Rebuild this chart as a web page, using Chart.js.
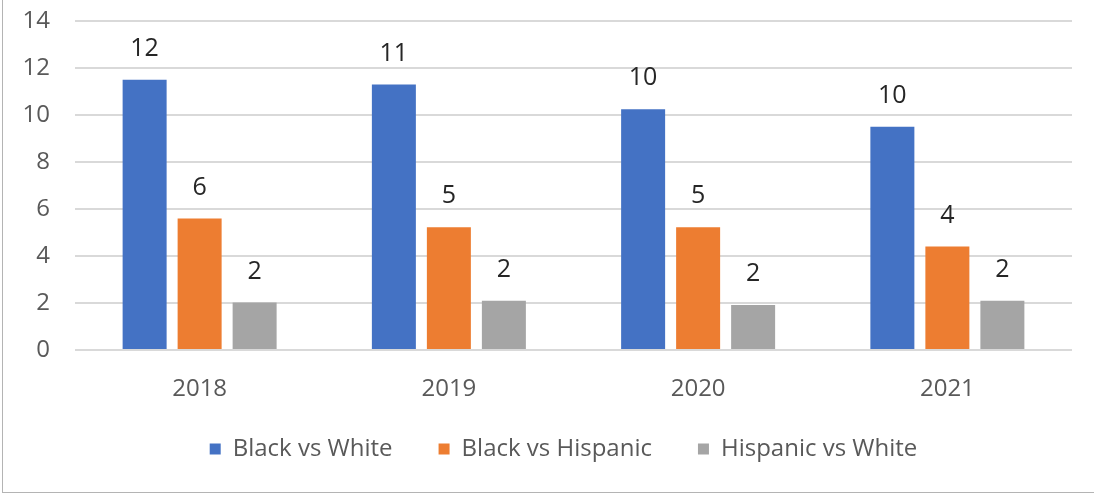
<!DOCTYPE html>
<html>
<head>
<meta charset="utf-8">
<script src="https://cdn.jsdelivr.net/npm/chart.js@4/dist/chart.umd.min.js"></script>
<style>
  html, body { margin: 0; padding: 0; background: #fff; }
  #frame {
    position: absolute;
    left: 2px;
    top: 0;
    width: 1092px;
    height: 493px;
    box-sizing: border-box;
    border-left: 1px solid #b4b4b4;
    border-bottom: 1px solid #b4b4b4;
  }
  #chart { display: block; }
</style>
</head>
<body>
<div id="frame"><canvas id="chart" width="1091" height="492"></canvas></div>
<script>
const years = ["2018", "2019", "2020", "2021"];
const blackVsWhite = [11.5, 11.3, 10.25, 9.5];
const blackVsHispanic = [5.6, 5.22, 5.22, 4.4];
const hispanicVsWhite = [2.02, 2.1, 1.92, 2.1];
const yTicks = [0, 2, 4, 6, 8, 10, 12, 14];

const fontFamily = "'Open Sans', 'Noto Sans', sans-serif";

// writes the rounded value above every bar
const barValues = {
  id: "barValues",
  afterDatasetsDraw(chart) {
    const ctx = chart.ctx;
    ctx.save();
    ctx.font = "25px " + fontFamily;
    ctx.fillStyle = "#262626";
    ctx.textAlign = "center";
    ctx.textBaseline = "middle";
    chart.data.datasets.forEach((ds, i) => {
      chart.getDatasetMeta(i).data.forEach((bar, j) => {
        ctx.fillText(Math.round(ds.data[j]), bar.x, bar.y - 31);
      });
    });
    ctx.restore();
  },
};

// legend padding also spaces the items apart, so pull the row back up
// and nudge it right a little
const moveLegend = {
  id: "moveLegend",
  afterLayout(chart) {
    const lg = chart.legend;
    lg.top -= 15;
    lg.bottom -= 15;
    lg.left += 17;
    lg.right += 17;
  },
};

new Chart(document.getElementById("chart"), {
  type: "bar",
  data: {
    labels: years,
    datasets: [
      { label: "Black vs White", data: blackVsWhite, backgroundColor: "#4472C4" },
      { label: "Black vs Hispanic", data: blackVsHispanic, backgroundColor: "#ED7D31" },
      { label: "Hispanic vs White", data: hispanicVsWhite, backgroundColor: "#A5A5A5" },
    ],
  },
  options: {
    responsive: false,
    animation: false,
    categoryPercentage: 0.662,
    barPercentage: 0.8,
    layout: { padding: { top: 21, left: 18, right: 22, bottom: 6 } },
    scales: {
      x: {
        grid: { display: false },
        border: { display: false },
        ticks: { color: "#595959", font: { family: fontFamily, size: 24 }, padding: 17 },
        afterFit(scale) {
          scale.height = 56;
        },
      },
      y: {
        min: 0,
        max: 14,
        afterBuildTicks(scale) {
          scale.ticks = yTicks.map((v) => ({ value: v }));
        },
        afterFit(scale) {
          scale.width = 54;
          scale.paddingTop = 0;
          scale.paddingBottom = 0;
        },
        grid: { color: "#d9d9d9", lineWidth: 2, drawTicks: false },
        border: { display: false },
        ticks: { color: "#595959", font: { family: fontFamily, size: 24 }, padding: 25 },
      },
    },
    plugins: {
      tooltip: { enabled: false },
      legend: {
        position: "bottom",
        labels: {
          color: "#595959",
          font: { family: fontFamily, size: 24 },
          boxWidth: 11,
          boxHeight: 11,
          padding: 46,
        },
      },
    },
  },
  plugins: [barValues, moveLegend],
});
</script>
</body>
</html>
